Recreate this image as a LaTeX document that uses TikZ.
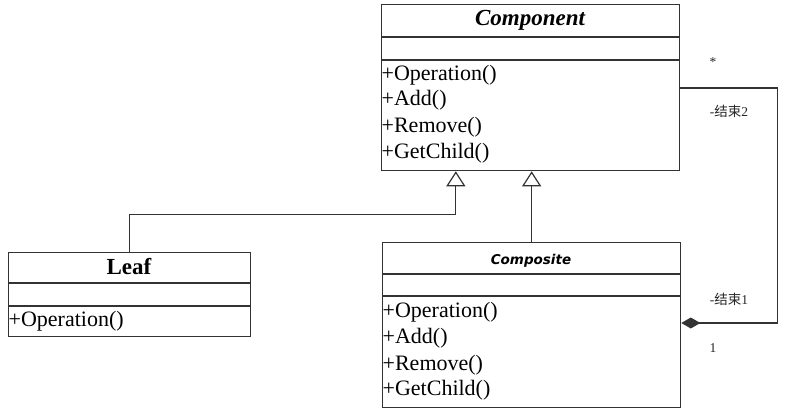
\documentclass[tikz,border=0pt]{standalone}
\usepackage{fontspec}
\setmainfont{Liberation Serif}
\newfontfamily\sansbi{DejaVu Sans}
\newfontfamily\cjk{Noto Sans CJK SC}
\usetikzlibrary{arrows.meta,calc}
\begin{document}
\begin{tikzpicture}[x=1pt,y=-1pt,
  line width=1.3pt,
  ln/.style={draw=black!80},
  classbox/.style={draw=black!80, anchor=north west, inner sep=0pt},
  member/.style={anchor=west, inner sep=0pt, font=\fontsize{22}{25}\selectfont},
  lbl/.style={inner sep=0pt, text=black!85, font=\fontsize{13.5}{15}\selectfont},
  gen/.style={draw=black!80, -{Triangle[open, length=15pt, width=19pt, line width=1.2pt]}},
  compos/.style={draw=black!80, -{Diamond[length=19pt, width=11pt]}}]
\useasboundingbox (0,0) rectangle (785,415);
% Component
\node[classbox, minimum width=298pt, minimum height=166pt] (comp) at (381,4) {};
\draw[ln] (381,37) -- (679,37);
\draw[ln] (381,60) -- (679,60);
\node[font=\fontsize{23}{26}\selectfont\bfseries\itshape] (compt) at (530,20) {Component};
\node[member] (c1m) at (381,75) {+Operation()};
\node[member] (c2m) at (381,100) {+Add()};
\node[member] (c3m) at (381,127) {+Remove()};
\node[member] (c4m) at (381,153) {+GetChild()};
% Leaf
\node[classbox, minimum width=242pt, minimum height=84pt] (leaf) at (8,252) {};
\draw[ln] (8,283) -- (250,283);
\draw[ln] (8,306) -- (250,306);
\node[font=\fontsize{23}{26}\selectfont\bfseries] (leaft) at (129,267) {Leaf};
\node[member] (l1m) at (8,321) {+Operation()};
% Composite
\node[classbox, minimum width=298pt, minimum height=165pt] (compo) at (382,242) {};
\draw[ln] (382,274) -- (680,274);
\draw[ln] (382,296) -- (680,296);
\node[font=\fontsize{13.5}{16}\selectfont\sansbi\bfseries\itshape] (compot) at (531,261) {Composite};
\node[member] (p1m) at (382,312) {+Operation()};
\node[member] (p2m) at (382,338) {+Add()};
\node[member] (p3m) at (382,365) {+Remove()};
\node[member] (p4m) at (382,390) {+GetChild()};
% generalizations
\coordinate (g1) at ($(comp.south west)!0.25!(comp.south east)$);
\draw[gen] (leaf.north) |- ($(g1)+(0,43)$) -- (g1);
\draw[gen] (compo.north) -- (compo.north |- comp.south);
% composition
\draw[compos] ([yshift=-84pt]comp.north east) -- ++(97,0) |- ([yshift=-81pt]compo.north east);
\node[lbl] (star) at (713,62) {*};
\node[lbl] (end2) at (729,111) {-{\cjk 结束}2};
\node[lbl] (end1) at (729,299) {-{\cjk 结束}1};
\node[lbl] (one) at (713,348) {1};
\end{tikzpicture}
\end{document}
